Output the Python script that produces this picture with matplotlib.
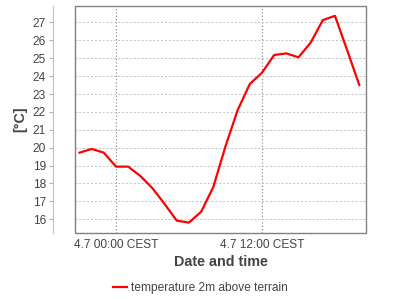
import matplotlib
matplotlib.use("Agg")
import matplotlib.pyplot as plt
from matplotlib.patches import Rectangle

# hours relative to 4.7 00:00 CEST
hours = [-3, -2, -1, 0, 1, 2, 3, 4, 5, 6, 7, 8, 9, 10, 11, 12,
         13, 14, 15, 16, 17, 18, 19, 20]
temps = [19.72, 19.93, 19.72, 18.94, 18.94, 18.42, 17.73, 16.85, 15.92, 15.81,
         16.42, 17.8, 20.08, 22.1, 23.56, 24.19, 25.18, 25.27, 25.05, 25.87,
         27.13, 27.37, 25.45, 23.5]
xticks = [0, 12]
xtick_labels = ["4.7 00:00 CEST", "4.7 12:00 CEST"]
yticks = list(range(16, 28))

plt.rcParams['font.family'] = ['Liberation Sans', 'DejaVu Sans']
text_col = '#444444'

fig = plt.figure(figsize=(4, 3), dpi=100)
ax = fig.add_axes([75 / 400, 1 - 233 / 300, 291 / 400, 227 / 300])

line, = ax.plot(hours, temps, color='#ff0000', lw=1.6,
                label='temperature 2m above terrain')
ax.set_xlim(-3.37, 20.55)
ax.set_ylim(15.23, 27.92)

ax.set_yticks(yticks)
ax.set_xticks(xticks)
ax.set_xticklabels(xtick_labels)
ax.tick_params(axis='x', length=0, pad=4, labelsize=8.6, colors=text_col)
ax.tick_params(axis='y', length=3, width=0.8, color='#b0b0b0', pad=2,
               labelsize=8.6, labelcolor=text_col)

for s in ['top', 'right', 'bottom']:
    ax.spines[s].set_visible(False)
# 22 px left of the frame (points at 100 dpi)
ax.spines['left'].set_position(('outward', 22 * 72 / 100))
ax.spines['left'].set_color('#c0c0c0')
ax.spines['left'].set_linewidth(0.8)

# plot frame
ax.add_patch(Rectangle((0, 0), 1, 1, transform=ax.transAxes, fill=False,
                       edgecolor='#808080', lw=1.0, clip_on=False, zorder=5))

ax.grid(axis='y', color='#c0c0c0', ls=(0, (2, 2)), lw=0.7)
for x in xticks:
    ax.axvline(x, color='#808080', ls=(0, (1, 2)), lw=0.8, zorder=1)

ax.set_xlabel('Date and time', fontsize=10.3, fontweight='bold', color=text_col)
ax.xaxis.set_label_coords(0.5, -0.095)
ax.set_ylabel('[°C]', fontsize=10.3, fontweight='bold', color=text_col)
ax.yaxis.set_label_coords(-0.165, 0.5)

fig.legend(handles=[line], loc='center', bbox_to_anchor=(0.5, 0.04),
           frameon=False, fontsize=8.6, handlelength=1.2, handletextpad=0.3,
           labelcolor=text_col)

fig.savefig('out.png', dpi=100)
